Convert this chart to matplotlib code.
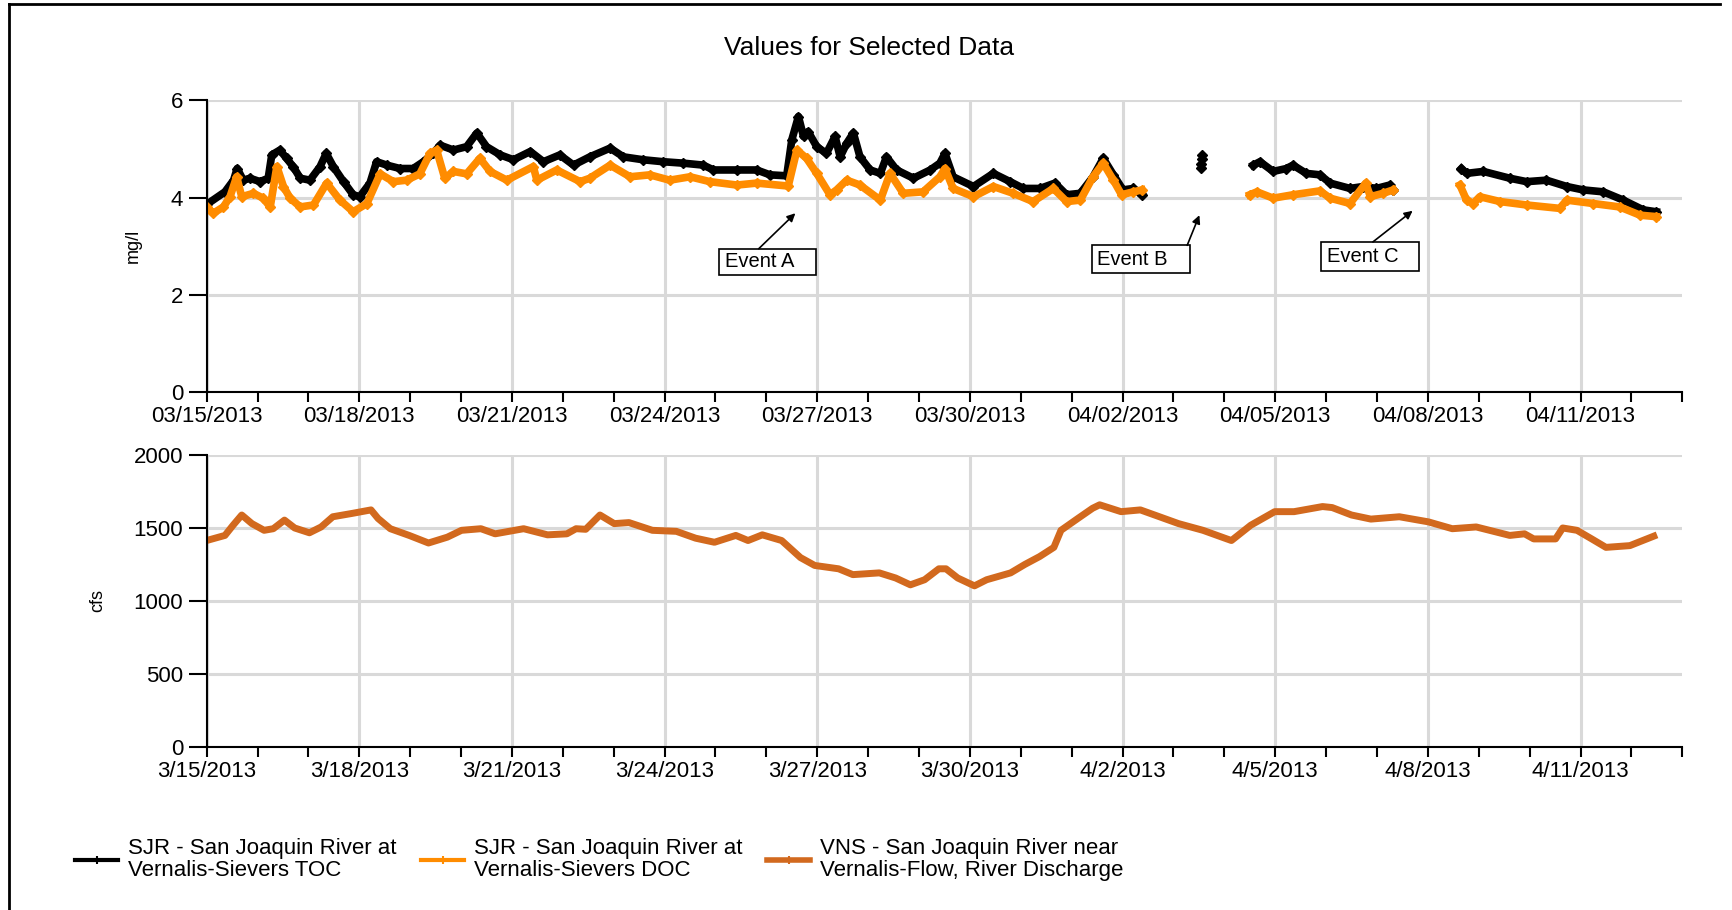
import matplotlib
matplotlib.use('Agg')
import matplotlib.pyplot as plt
import numpy as np
import pandas as pd
from matplotlib.lines import Line2D
from matplotlib.patches import Rectangle

plt.rcParams['font.family'] = ['Liberation Sans', 'DejaVu Sans']

# days since 03/15/2013 00:00
start = pd.Timestamp('2013-03-15')
n_days = 29

# SJR TOC (mg/l), three runs of data plus a few isolated readings
toc_days_1 = [0, 0.36, 0.53, 0.60, 0.72, 0.85, 1.05, 1.21, 1.28, 1.44, 1.57, 1.70, 1.84, 2.03,
              2.23, 2.35, 2.49, 2.69, 2.88, 3.01, 3.21, 3.34, 3.54, 3.80, 4.06, 4.26, 4.45, 4.59,
              4.85, 5.11, 5.31, 5.50, 5.77, 6.03, 6.36, 6.62, 6.94, 7.21, 7.53, 7.93, 8.19, 8.58,
              8.97, 9.37, 9.76, 9.96, 10.42, 10.81, 11.07, 11.40, 11.50, 11.63, 11.73, 11.82,
              11.99, 12.18, 12.35, 12.45, 12.58, 12.71, 12.84, 13.04, 13.24, 13.36, 13.56, 13.89,
              14.22, 14.41, 14.51, 14.67, 15.07, 15.46, 15.79, 16.05, 16.38, 16.67, 16.90, 17.17,
              17.42, 17.62, 17.82, 18.01, 18.21, 18.38]
toc_vals_1 = [3.86, 4.12, 4.36, 4.60, 4.36, 4.40, 4.33, 4.40, 4.88, 4.98, 4.81, 4.64, 4.40, 4.36,
              4.64, 4.91, 4.64, 4.33, 4.06, 4.02, 4.30, 4.74, 4.67, 4.60, 4.60, 4.74, 4.91, 5.08,
              4.98, 5.05, 5.33, 5.05, 4.88, 4.78, 4.95, 4.74, 4.88, 4.67, 4.84, 5.02, 4.84, 4.78,
              4.74, 4.71, 4.67, 4.57, 4.57, 4.57, 4.47, 4.45, 5.19, 5.67, 5.26, 5.36,
              5.05, 4.91, 5.26, 4.84, 5.12, 5.33, 4.84, 4.57, 4.50, 4.84, 4.57, 4.40,
              4.57, 4.71, 4.91, 4.43, 4.23, 4.50, 4.33, 4.19, 4.19, 4.30, 4.06, 4.09,
              4.43, 4.81, 4.47, 4.16, 4.19, 4.06]
toc_days_b = [19.54, 19.55, 19.56, 19.57]
toc_vals_b = [4.62, 4.70, 4.80, 4.88]
toc_days_2 = [20.57, 20.70, 20.96, 21.22, 21.35, 21.61, 21.88, 22.08, 22.47, 22.73, 22.99, 23.25, 23.32]
toc_vals_2 = [4.67, 4.74, 4.54, 4.60, 4.67, 4.50, 4.47, 4.30, 4.19, 4.23, 4.19, 4.26, 4.16]
toc_days_3 = [24.66, 24.76, 25.09, 25.61, 25.94, 26.33, 26.73, 27.05, 27.45, 27.84, 28.23, 28.49]
toc_vals_3 = [4.60, 4.50, 4.54, 4.40, 4.33, 4.36, 4.23, 4.16, 4.12, 3.95, 3.75, 3.71]

# SJR DOC (mg/l)
doc_days_1 = [0, 0.13, 0.33, 0.46, 0.59, 0.69, 0.92, 1.11, 1.25, 1.38, 1.51, 1.64, 1.84, 2.10,
              2.36, 2.62, 2.88, 3.15, 3.41, 3.67, 3.93, 4.19, 4.39, 4.52, 4.68, 4.85, 5.11, 5.37,
              5.57, 5.90, 6.42, 6.49, 6.88, 7.34, 7.53, 7.93, 8.32, 8.71, 9.10, 9.50, 9.89, 10.42,
              10.81, 11.43, 11.60, 11.79, 11.99, 12.25, 12.38, 12.58, 12.84, 13.24, 13.43, 13.69,
              14.08, 14.41, 14.51, 14.67, 15.07, 15.46, 15.85, 16.24, 16.64, 16.90, 17.17, 17.42,
              17.62, 17.82, 17.98, 18.21, 18.38]
doc_vals_1 = [3.81, 3.68, 3.81, 4.02, 4.43, 4.02, 4.09, 3.99, 3.81, 4.64, 4.23, 3.99, 3.81, 3.85,
              4.30, 3.95, 3.71, 3.88, 4.49, 4.33, 4.36, 4.49, 4.91, 4.98, 4.40, 4.54, 4.49, 4.81,
              4.54, 4.36, 4.64, 4.36, 4.57, 4.33, 4.40, 4.67, 4.43, 4.47, 4.36, 4.43, 4.33, 4.26,
              4.30, 4.24, 4.98, 4.81, 4.50, 4.06, 4.16, 4.36, 4.26, 3.95, 4.50, 4.09,
              4.12, 4.43, 4.60, 4.19, 4.02, 4.23, 4.09, 3.92, 4.19, 3.92, 3.95, 4.43,
              4.71, 4.36, 4.06, 4.12, 4.16]
doc_days_2 = [20.50, 20.64, 20.96, 21.35, 21.88, 22.08, 22.47, 22.78, 22.87, 23.12, 23.32]
doc_vals_2 = [4.06, 4.12, 3.99, 4.06, 4.14, 3.99, 3.88, 4.30, 4.02, 4.09, 4.16]
doc_days_3 = [24.63, 24.76, 24.89, 25.02, 25.42, 25.94, 26.59, 26.73, 27.25, 27.77, 28.17, 28.49]
doc_vals_3 = [4.26, 3.95, 3.88, 4.02, 3.92, 3.85, 3.78, 3.95, 3.88, 3.81, 3.64, 3.61]

# VNS flow (cfs)
flow_days = [0, 0.36, 0.52, 0.69, 0.89, 1.13, 1.31, 1.53, 1.73, 2.02, 2.25, 2.48, 2.86, 3.23, 3.37,
             3.61, 3.98, 4.36, 4.73, 5.01, 5.39, 5.67, 6.23, 6.70, 7.08, 7.26, 7.45, 7.73, 8.01,
             8.30, 8.76, 9.23, 9.61, 9.98, 10.40, 10.64, 10.92, 11.30, 11.67, 11.95, 12.42, 12.70,
             13.22, 13.54, 13.83, 14.11, 14.39, 14.53, 14.76, 15.09, 15.33, 15.80, 16.08, 16.37,
             16.65, 16.79, 17.12, 17.41, 17.55, 17.97, 18.35, 18.63, 19.10, 19.58, 20.05, 20.14,
             20.52, 20.99, 21.37, 21.93, 22.12, 22.50, 22.88, 23.44, 24.01, 24.48, 24.95, 25.61,
             25.90, 26.08, 26.51, 26.65, 26.93, 27.22, 27.50, 27.97, 28.44]
flow_vals = [1414, 1449, 1519, 1589, 1530, 1484, 1495, 1554, 1500, 1467, 1507, 1577, 1600, 1624, 1565,
             1495, 1449, 1397, 1437, 1484, 1495, 1460, 1495, 1453, 1460, 1495, 1491, 1589, 1530,
             1537, 1484, 1477, 1430, 1402, 1449, 1414, 1453, 1414, 1297, 1243, 1220, 1180,
             1192, 1157, 1110, 1145, 1220, 1220, 1157, 1103, 1145, 1192, 1250, 1304,
             1367, 1484, 1565, 1635, 1659, 1612, 1624, 1589, 1530, 1484, 1425, 1414,
             1519, 1612, 1612, 1647, 1640, 1589, 1561, 1577, 1542, 1495, 1507, 1449,
             1460, 1425, 1425, 1500, 1484, 1425, 1367, 1379, 1444]

# annotations: label, box (x0, x1, y0, y1), text x, arrow tail, arrow tip
events = [
    ('Event A', (10.07, 11.98, 2.41, 2.95), 10.18, (10.85, 2.95), (11.57, 3.68)),
    ('Event B', (17.39, 19.32, 2.45, 3.02), 17.50, (19.27, 3.02), (19.51, 3.64)),
    ('Event C', (21.90, 23.83, 2.50, 3.09), 22.01, (22.92, 3.09), (23.70, 3.73)),
]

legend_labels = ['SJR - San Joaquin River at\nVernalis-Sievers TOC',
                 'SJR - San Joaquin River at\nVernalis-Sievers DOC',
                 'VNS - San Joaquin River near\nVernalis-Flow, River Discharge']

major_days = np.arange(0, 28, 3)
major_dates = start + pd.to_timedelta(major_days, unit='D')
top_labels = [d.strftime('%m/%d/%Y') for d in major_dates]
bottom_labels = [f'{d.month}/{d.day}/{d.year}' for d in major_dates]

toc_color = 'black'
doc_color = '#ff8c00'
flow_color = '#d2691e'
grid_color = '#d9d9d9'


def seg(days_list, vals_list):
    # join runs with NaN so gaps stay open
    xs, ys = [], []
    for d, v in zip(days_list, vals_list):
        assert len(d) == len(v)
        xs += list(d) + [np.nan]
        ys += list(v) + [np.nan]
    return np.array(xs), np.array(ys)


def style(ax, labels):
    for s in ['top', 'right']:
        ax.spines[s].set_visible(False)
    for s in ['left', 'bottom']:
        ax.spines[s].set_linewidth(1.5)
        ax.spines[s].set_zorder(5)
    ax.set_xlim(0, n_days)
    ax.set_xticks(major_days)
    ax.set_xticklabels(labels)
    ax.set_xticks(np.arange(0, n_days + 1), minor=True)
    ax.grid(True, which='major', color=grid_color, lw=2.2)
    ax.set_axisbelow(True)
    ax.tick_params(axis='x', which='both', length=7, width=1.5, pad=3, labelsize=16)
    ax.tick_params(axis='y', length=13, width=1.5, pad=4, labelsize=16)


fig = plt.figure(figsize=(17.32, 9.10), dpi=100)
ax1 = fig.add_axes([0.1193, 0.5691, 0.852, 0.3205])
ax2 = fig.add_axes([0.1193, 0.1795, 0.852, 0.3204])

# top: carbon
x, y = seg([toc_days_1, toc_days_2, toc_days_3], [toc_vals_1, toc_vals_2, toc_vals_3])
ax1.plot(x, y, color=toc_color, lw=5.5, marker='D', ms=5, solid_joinstyle='round', zorder=3)
ax1.plot(toc_days_b, toc_vals_b, color=toc_color, lw=2, marker='D', ms=5, zorder=3)
x, y = seg([doc_days_1, doc_days_2, doc_days_3], [doc_vals_1, doc_vals_2, doc_vals_3])
ax1.plot(x, y, color=doc_color, lw=5.5, marker='D', ms=5, solid_joinstyle='round', zorder=4)
style(ax1, top_labels)
ax1.set_ylim(0, 6)
ax1.set_yticks([0, 2, 4, 6])
ax1.set_ylabel('mg/l', fontsize=13)
ax1.yaxis.set_label_coords(-0.044, 0.5)

for label, (x0, x1, y0, y1), tx, tail, tip in events:
    ax1.add_patch(Rectangle((x0, y0), x1 - x0, y1 - y0, fill=True, facecolor='white',
                            edgecolor='black', lw=1.2, zorder=6))
    ax1.text(tx, (y0 + y1) / 2, label, fontsize=14.5, va='center', ha='left', zorder=7)
    ax1.annotate('', xy=tip, xytext=tail,
                 arrowprops=dict(arrowstyle='-|>', color='black', lw=1.2,
                                 mutation_scale=12, shrinkA=0, shrinkB=0), zorder=7)

# bottom: flow
ax2.plot(flow_days, flow_vals, color=flow_color, lw=5, solid_joinstyle='round', zorder=3)
style(ax2, bottom_labels)
ax2.set_ylim(0, 2000)
ax2.set_yticks(np.arange(0, 2001, 500))
ax2.set_ylabel('cfs', fontsize=13)
ax2.yaxis.set_label_coords(-0.068, 0.5)

fig.text(0.502, 0.947, 'Values for Selected Data', fontsize=19, ha='center', va='center')

handles = [Line2D([], [], color=toc_color, lw=3, marker='|', ms=6, mew=1.5),
           Line2D([], [], color=doc_color, lw=3, marker='|', ms=6, mew=1.5),
           Line2D([], [], color=flow_color, lw=4, marker='|', ms=6, mew=1.5)]
leg = fig.legend(handles, legend_labels, loc='center left', bbox_to_anchor=(0.0433, 0.0555),
                 ncol=3, frameon=False, fontsize=16, handlelength=1.94, handletextpad=0.45,
                 columnspacing=1.1, borderpad=0, borderaxespad=0)
for t in leg.get_texts():
    t.set_linespacing(1.05)

# outer frame of the exported picture
fig.add_artist(Line2D([9 / 1732, 1720 / 1732], [1 - 4 / 910, 1 - 4 / 910], color='black', lw=2))
fig.add_artist(Line2D([9 / 1732, 9 / 1732], [0, 1 - 4 / 910], color='black', lw=2))

fig.savefig('out.png', dpi=100)
